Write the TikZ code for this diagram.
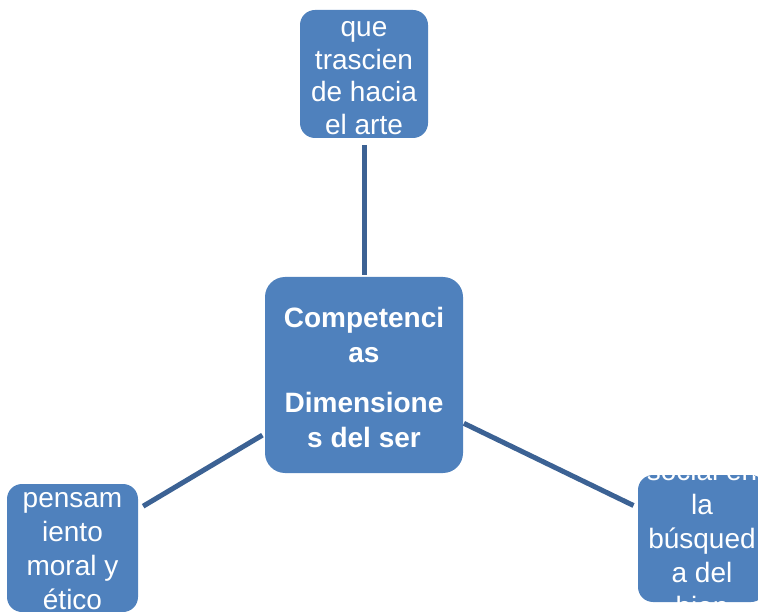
\documentclass[tikz,border=0pt]{standalone}
\usepackage{fontspec}
\setmainfont{Liberation Sans}
\definecolor{boxblue}{RGB}{79,129,189}
\definecolor{linkblue}{RGB}{60,98,148}
\begin{document}
\begin{tikzpicture}[x=1pt,y=-1pt,
  box/.style={fill=boxblue, rounded corners=15pt, inner sep=0pt, outer sep=0pt},
  boxtext/.style={text=white, align=center, font=\fontsize{28}{34}\selectfont, inner sep=0pt},
  conn/.style={draw=linkblue, line width=5pt}]
\useasboundingbox (0,0) rectangle (758,612);
\clip (0,0) rectangle (758,612);
% boxes
\node[box, minimum width=128pt, minimum height=128pt] (top) at (364,74) {};
\node[box, rounded corners=20pt, minimum width=198pt, minimum height=196pt] (ctr) at (364,375) {};
\node[box, minimum width=131pt, minimum height=128pt] (left) at (72.5,548) {};
\node[box, minimum width=128pt, minimum height=127pt] (right) at (702,538.5) {};
% connectors
\draw[conn, shorten <=7pt, shorten >=2pt] (top) -- (ctr);
\draw[conn, shorten <=3pt, shorten >=6pt] (ctr) -- (left);
\draw[conn, shorten <=1pt, shorten >=5pt] (ctr) -- (right);
% texts
\begin{scope}
\clip[rounded corners=15pt] (top.north west) rectangle (top.south east);
\node[boxtext, font=\fontsize{28}{32.5}\selectfont] (toptext) at ([yshift=-4pt]top.center) {que\\trascien\\de hacia\\el arte};
\end{scope}
\node[boxtext, font=\bfseries\fontsize{28}{35}\selectfont] (ctrtext) at ([yshift=-2pt]ctr.center) {Competenci\\as\\[15pt]Dimensione\\s del ser};
\begin{scope}
\clip[rounded corners=15pt] (left.north west) rectangle (left.south east);
\node[boxtext] (lefttext) at ([yshift=-3pt]left.center) {pensam\\iento\\moral y\\ético};
\end{scope}
\begin{scope}
\clip[rounded corners=15pt] (right.north west) rectangle (right.south east);
\node[boxtext] (righttext) at (right.center) {social en\\la\\búsqued\\a del\\bien};
\end{scope}
\end{tikzpicture}
\end{document}
